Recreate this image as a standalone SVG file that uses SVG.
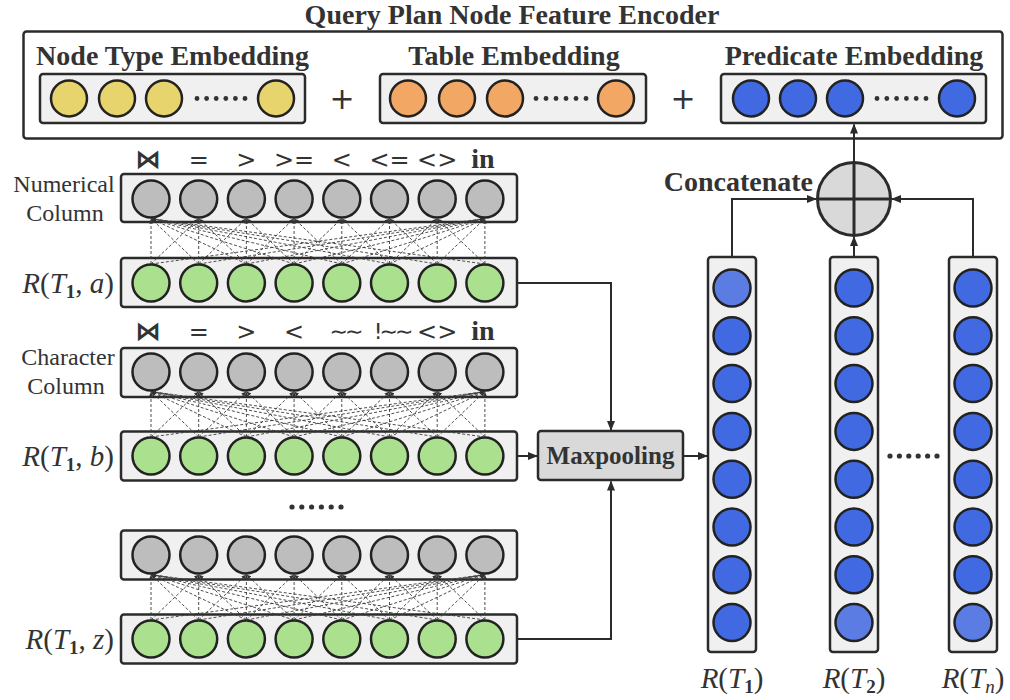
<svg xmlns="http://www.w3.org/2000/svg" xmlns:xlink="http://www.w3.org/1999/xlink" width="1010" height="700" viewBox="0 0 1010 700">
  <style>
    .box { fill: #f0f0f0; stroke: #2b2b2b; stroke-width: 2.5; }
    .c { stroke: #222; stroke-width: 2.5; }
    .yl { fill: #e8d46c; }
    .or { fill: #f2a864; }
    .bl { fill: #4169e1; }
    .bl2 { fill: #5b7de3; }
    .gr { fill: #bdbdbd; }
    .gn { fill: #abe08e; }
    .dot { fill: #333; }
    .hd { font-family: "Liberation Serif", serif; font-weight: bold; font-size: 28px; fill: #333; text-anchor: middle; }
    .hd.end { text-anchor: end; }
    .hd.mp { font-size: 25px; }
    .lbl { font-family: "Liberation Serif", serif; font-size: 24px; fill: #333; text-anchor: middle; }
    .op { font-family: "DejaVu Sans", sans-serif; font-size: 24px; fill: #333; text-anchor: middle; }
    .op.bt { font-weight: bold; font-size: 26px; }
    .op.tl { font-size: 22px; letter-spacing: -3px; }
    .opb { font-family: "Liberation Serif", serif; font-weight: bold; font-size: 28px; fill: #333; text-anchor: middle; }
    .math { font-family: "Liberation Serif", serif; font-size: 29px; fill: #333; }
    .math.end { text-anchor: end; }
    .math.mid { text-anchor: middle; }
    .math .i { font-style: italic; }
    .math .s { font-size: 19px; font-weight: bold; }
    .math .si { font-size: 19px; font-style: italic; }
    .plus { font-family: "DejaVu Sans", sans-serif; font-size: 30px; fill: #333; text-anchor: middle; }
    .arr { fill: none; stroke: #2b2b2b; stroke-width: 2; marker-end: url(#ah); }
    .dl { stroke: #3a3a3a; stroke-width: 0.9; stroke-dasharray: 3 2; marker-end: url(#ahs); }
  </style>
  <defs>
    <marker id="ah" markerUnits="userSpaceOnUse" markerWidth="10" markerHeight="8" refX="9" refY="4" orient="auto">
      <path d="M0,0 L10,4 L0,8 Z" fill="#2b2b2b"/>
    </marker>
    <marker id="ahs" markerUnits="userSpaceOnUse" markerWidth="5" markerHeight="4" refX="5" refY="2" orient="auto">
      <path d="M0,0 L5,2 L0,4 Z" fill="#333"/>
    </marker>
    <!-- dashed links between a gray operator row (centre y=0) and the green row below it (centre y=84) -->
    <g id="links">
      <line class="dl" x1="151" y1="65" x2="151" y2="19.5"/>
      <line class="dl" x1="198.7" y1="65" x2="151" y2="19.5"/>
      <line class="dl" x1="246.4" y1="65" x2="151" y2="19.5"/>
      <line class="dl" x1="294.1" y1="65" x2="151" y2="19.5"/>
      <line class="dl" x1="341.8" y1="65" x2="151" y2="19.5"/>
      <line class="dl" x1="389.5" y1="65" x2="151" y2="19.5"/>
      <line class="dl" x1="437.2" y1="65" x2="151" y2="19.5"/>
      <line class="dl" x1="484.9" y1="65" x2="151" y2="19.5"/>
      <line class="dl" x1="151" y1="65" x2="484.9" y2="19.5"/>
      <line class="dl" x1="198.7" y1="65" x2="484.9" y2="19.5"/>
      <line class="dl" x1="246.4" y1="65" x2="484.9" y2="19.5"/>
      <line class="dl" x1="294.1" y1="65" x2="484.9" y2="19.5"/>
      <line class="dl" x1="341.8" y1="65" x2="484.9" y2="19.5"/>
      <line class="dl" x1="389.5" y1="65" x2="484.9" y2="19.5"/>
      <line class="dl" x1="437.2" y1="65" x2="484.9" y2="19.5"/>
      <line class="dl" x1="484.9" y1="65" x2="484.9" y2="19.5"/>
      <line class="dl" x1="151" y1="65" x2="198.7" y2="19.5"/>
      <line class="dl" x1="198.7" y1="65" x2="198.7" y2="19.5"/>
      <line class="dl" x1="246.4" y1="65" x2="198.7" y2="19.5"/>
      <line class="dl" x1="198.7" y1="65" x2="246.4" y2="19.5"/>
      <line class="dl" x1="246.4" y1="65" x2="246.4" y2="19.5"/>
      <line class="dl" x1="294.1" y1="65" x2="246.4" y2="19.5"/>
      <line class="dl" x1="246.4" y1="65" x2="294.1" y2="19.5"/>
      <line class="dl" x1="294.1" y1="65" x2="294.1" y2="19.5"/>
      <line class="dl" x1="341.8" y1="65" x2="294.1" y2="19.5"/>
      <line class="dl" x1="294.1" y1="65" x2="341.8" y2="19.5"/>
      <line class="dl" x1="341.8" y1="65" x2="341.8" y2="19.5"/>
      <line class="dl" x1="389.5" y1="65" x2="341.8" y2="19.5"/>
      <line class="dl" x1="341.8" y1="65" x2="389.5" y2="19.5"/>
      <line class="dl" x1="389.5" y1="65" x2="389.5" y2="19.5"/>
      <line class="dl" x1="437.2" y1="65" x2="389.5" y2="19.5"/>
      <line class="dl" x1="389.5" y1="65" x2="437.2" y2="19.5"/>
      <line class="dl" x1="437.2" y1="65" x2="437.2" y2="19.5"/>
      <line class="dl" x1="484.9" y1="65" x2="437.2" y2="19.5"/>
    </g>
  </defs>

  <rect width="1010" height="700" fill="#ffffff"/>

  <!-- encoder header -->
  <g id="encoder">
    <text class="hd" x="512" y="24">Query Plan Node Feature Encoder</text>
    <rect x="23.5" y="31.5" width="979" height="107" rx="3" fill="#ffffff" stroke="#2b2b2b" stroke-width="2.5"/>
  </g>

  <g id="node-type-embedding">
    <text class="hd" x="172.5" y="65">Node Type Embedding</text>
    <rect class="box" x="40" y="74" width="265" height="49" rx="3"/>
    <circle class="c yl" cx="69" cy="98.5" r="18"/>
    <circle class="c yl" cx="117" cy="98.5" r="18"/>
    <circle class="c yl" cx="164" cy="98.5" r="18"/>
    <circle class="c yl" cx="276" cy="98.5" r="18"/>
    <g class="dot">
      <circle cx="197" cy="98.5" r="2.4"/><circle cx="206.6" cy="98.5" r="2.4"/><circle cx="216.2" cy="98.5" r="2.4"/>
      <circle cx="225.8" cy="98.5" r="2.4"/><circle cx="235.4" cy="98.5" r="2.4"/><circle cx="245" cy="98.5" r="2.4"/>
    </g>
  </g>

  <text class="plus" x="342" y="109">+</text>

  <g id="table-embedding">
    <text class="hd" x="514" y="65">Table Embedding</text>
    <rect class="box" x="380" y="74" width="266" height="49" rx="3"/>
    <circle class="c or" cx="408" cy="98.5" r="18"/>
    <circle class="c or" cx="457" cy="98.5" r="18"/>
    <circle class="c or" cx="505" cy="98.5" r="18"/>
    <circle class="c or" cx="616" cy="98.5" r="18"/>
    <g class="dot">
      <circle cx="536" cy="98.5" r="2.4"/><circle cx="546" cy="98.5" r="2.4"/><circle cx="556" cy="98.5" r="2.4"/>
      <circle cx="566" cy="98.5" r="2.4"/><circle cx="576" cy="98.5" r="2.4"/><circle cx="586" cy="98.5" r="2.4"/>
    </g>
  </g>

  <text class="plus" x="683" y="109">+</text>

  <g id="predicate-embedding">
    <text class="hd" x="854" y="65">Predicate Embedding</text>
    <rect class="box" x="721" y="74" width="265" height="49" rx="3"/>
    <circle class="c bl" cx="751" cy="98.5" r="18"/>
    <circle class="c bl" cx="798" cy="98.5" r="18"/>
    <circle class="c bl" cx="845" cy="98.5" r="18"/>
    <circle class="c bl" cx="957" cy="98.5" r="18"/>
    <g class="dot">
      <circle cx="877" cy="98.5" r="2.4"/><circle cx="886.8" cy="98.5" r="2.4"/><circle cx="896.6" cy="98.5" r="2.4"/>
      <circle cx="906.4" cy="98.5" r="2.4"/><circle cx="916.2" cy="98.5" r="2.4"/><circle cx="926" cy="98.5" r="2.4"/>
    </g>
  </g>

  <!-- numerical column operators -->
  <g id="numerical-column">
    <text class="op bt" x="148" y="168">⋈</text>
    <text class="op" x="198.7" y="168">=</text>
    <text class="op" x="246.4" y="168">&gt;</text>
    <text class="op" x="294.1" y="168">&gt;=</text>
    <text class="op" x="341.8" y="168">&lt;</text>
    <text class="op" x="389.5" y="168">&lt;=</text>
    <text class="op" x="437.2" y="168">&lt;&gt;</text>
    <text class="opb" x="483" y="168">in</text>
    <text class="lbl" x="64" y="192">Numerical</text>
    <text class="lbl" x="65" y="221">Column</text>
    <rect class="box" x="121" y="174" width="396" height="48" rx="3"/>
    <circle class="c gr" cx="151" cy="199" r="18.5"/>
    <circle class="c gr" cx="198.7" cy="199" r="18.5"/>
    <circle class="c gr" cx="246.4" cy="199" r="18.5"/>
    <circle class="c gr" cx="294.1" cy="199" r="18.5"/>
    <circle class="c gr" cx="341.8" cy="199" r="18.5"/>
    <circle class="c gr" cx="389.5" cy="199" r="18.5"/>
    <circle class="c gr" cx="437.2" cy="199" r="18.5"/>
    <circle class="c gr" cx="484.9" cy="199" r="18.5"/>
  </g>

  <g id="r-t1-a">
    <text class="math end" x="114" y="293"><tspan class="i">R</tspan>(<tspan class="i">T</tspan><tspan class="s" dy="5">1</tspan><tspan dy="-5">, </tspan><tspan class="i">a</tspan>)</text>
    <rect class="box" x="121" y="258" width="396" height="49" rx="3"/>
    <circle class="c gn" cx="151" cy="283" r="18.5"/>
    <circle class="c gn" cx="198.7" cy="283" r="18.5"/>
    <circle class="c gn" cx="246.4" cy="283" r="18.5"/>
    <circle class="c gn" cx="294.1" cy="283" r="18.5"/>
    <circle class="c gn" cx="341.8" cy="283" r="18.5"/>
    <circle class="c gn" cx="389.5" cy="283" r="18.5"/>
    <circle class="c gn" cx="437.2" cy="283" r="18.5"/>
    <circle class="c gn" cx="484.9" cy="283" r="18.5"/>
  </g>

  <!-- character column operators -->
  <g id="character-column">
    <text class="op bt" x="148" y="340">⋈</text>
    <text class="op" x="198.7" y="340">=</text>
    <text class="op" x="246.4" y="340">&gt;</text>
    <text class="op" x="294.1" y="340">&lt;</text>
    <text class="op tl" x="345" y="339">∼∼</text>
    <text class="op tl" x="392" y="339">!∼∼</text>
    <text class="op" x="437.2" y="340">&lt;&gt;</text>
    <text class="opb" x="483" y="340">in</text>
    <text class="lbl" x="68" y="365">Character</text>
    <text class="lbl" x="66" y="394">Column</text>
    <rect class="box" x="121" y="348" width="396" height="49" rx="3"/>
    <circle class="c gr" cx="151" cy="372" r="18.5"/>
    <circle class="c gr" cx="198.7" cy="372" r="18.5"/>
    <circle class="c gr" cx="246.4" cy="372" r="18.5"/>
    <circle class="c gr" cx="294.1" cy="372" r="18.5"/>
    <circle class="c gr" cx="341.8" cy="372" r="18.5"/>
    <circle class="c gr" cx="389.5" cy="372" r="18.5"/>
    <circle class="c gr" cx="437.2" cy="372" r="18.5"/>
    <circle class="c gr" cx="484.9" cy="372" r="18.5"/>
  </g>

  <g id="r-t1-b">
    <text class="math end" x="114" y="466"><tspan class="i">R</tspan>(<tspan class="i">T</tspan><tspan class="s" dy="5">1</tspan><tspan dy="-5">, </tspan><tspan class="i">b</tspan>)</text>
    <rect class="box" x="121" y="431.5" width="396" height="49" rx="3"/>
    <circle class="c gn" cx="151" cy="456" r="18.5"/>
    <circle class="c gn" cx="198.7" cy="456" r="18.5"/>
    <circle class="c gn" cx="246.4" cy="456" r="18.5"/>
    <circle class="c gn" cx="294.1" cy="456" r="18.5"/>
    <circle class="c gn" cx="341.8" cy="456" r="18.5"/>
    <circle class="c gn" cx="389.5" cy="456" r="18.5"/>
    <circle class="c gn" cx="437.2" cy="456" r="18.5"/>
    <circle class="c gn" cx="484.9" cy="456" r="18.5"/>
  </g>

  <g id="more-columns" class="dot">
    <circle cx="292" cy="507" r="2.6"/><circle cx="301.8" cy="507" r="2.6"/><circle cx="311.6" cy="507" r="2.6"/>
    <circle cx="321.4" cy="507" r="2.6"/><circle cx="331.2" cy="507" r="2.6"/><circle cx="341" cy="507" r="2.6"/>
  </g>

  <g id="column-z">
    <rect class="box" x="121" y="530.5" width="396" height="49" rx="3"/>
    <circle class="c gr" cx="151" cy="555" r="18.5"/>
    <circle class="c gr" cx="198.7" cy="555" r="18.5"/>
    <circle class="c gr" cx="246.4" cy="555" r="18.5"/>
    <circle class="c gr" cx="294.1" cy="555" r="18.5"/>
    <circle class="c gr" cx="341.8" cy="555" r="18.5"/>
    <circle class="c gr" cx="389.5" cy="555" r="18.5"/>
    <circle class="c gr" cx="437.2" cy="555" r="18.5"/>
    <circle class="c gr" cx="484.9" cy="555" r="18.5"/>
  </g>

  <g id="r-t1-z">
    <text class="math end" x="114" y="649"><tspan class="i">R</tspan>(<tspan class="i">T</tspan><tspan class="s" dy="5">1</tspan><tspan dy="-5">, </tspan><tspan class="i">z</tspan>)</text>
    <rect class="box" x="121" y="614.5" width="396" height="49" rx="3"/>
    <circle class="c gn" cx="151" cy="639" r="18.5"/>
    <circle class="c gn" cx="198.7" cy="639" r="18.5"/>
    <circle class="c gn" cx="246.4" cy="639" r="18.5"/>
    <circle class="c gn" cx="294.1" cy="639" r="18.5"/>
    <circle class="c gn" cx="341.8" cy="639" r="18.5"/>
    <circle class="c gn" cx="389.5" cy="639" r="18.5"/>
    <circle class="c gn" cx="437.2" cy="639" r="18.5"/>
    <circle class="c gn" cx="484.9" cy="639" r="18.5"/>
  </g>

  <g id="maxpooling">
    <rect x="538" y="431" width="145" height="49" rx="3" fill="#d9d9d9" stroke="#2b2b2b" stroke-width="2.5"/>
    <text class="hd mp" x="610.5" y="464">Maxpooling</text>
  </g>

  <!-- table representations -->
  <g id="r-t1">
    <rect class="box" x="708" y="257" width="48" height="395" rx="3"/>
    <circle class="c bl2" cx="732" cy="288" r="18.5"/>
    <circle class="c bl" cx="732" cy="335.8" r="18.5"/>
    <circle class="c bl" cx="732" cy="383.6" r="18.5"/>
    <circle class="c bl" cx="732" cy="431.4" r="18.5"/>
    <circle class="c bl" cx="732" cy="479.2" r="18.5"/>
    <circle class="c bl" cx="732" cy="527" r="18.5"/>
    <circle class="c bl" cx="732" cy="574.8" r="18.5"/>
    <circle class="c bl" cx="732" cy="622.6" r="18.5"/>
    <text class="math mid" x="732" y="688"><tspan class="i">R</tspan>(<tspan class="i">T</tspan><tspan class="s" dy="5">1</tspan><tspan dy="-5">)</tspan></text>
  </g>

  <g id="r-t2">
    <rect class="box" x="830" y="257" width="48" height="395" rx="3"/>
    <circle class="c bl" cx="854" cy="288" r="18.5"/>
    <circle class="c bl" cx="854" cy="335.8" r="18.5"/>
    <circle class="c bl" cx="854" cy="383.6" r="18.5"/>
    <circle class="c bl" cx="854" cy="431.4" r="18.5"/>
    <circle class="c bl" cx="854" cy="479.2" r="18.5"/>
    <circle class="c bl" cx="854" cy="527" r="18.5"/>
    <circle class="c bl" cx="854" cy="574.8" r="18.5"/>
    <circle class="c bl2" cx="854" cy="622.6" r="18.5"/>
    <text class="math mid" x="854" y="688"><tspan class="i">R</tspan>(<tspan class="i">T</tspan><tspan class="s" dy="5">2</tspan><tspan dy="-5">)</tspan></text>
  </g>

  <g id="more-tables" class="dot">
    <circle cx="890" cy="456" r="2.6"/><circle cx="899.4" cy="456" r="2.6"/><circle cx="908.8" cy="456" r="2.6"/>
    <circle cx="918.2" cy="456" r="2.6"/><circle cx="927.6" cy="456" r="2.6"/><circle cx="937" cy="456" r="2.6"/>
  </g>

  <g id="r-tn">
    <rect class="box" x="949" y="257" width="48" height="395" rx="3"/>
    <circle class="c bl" cx="973" cy="288" r="18.5"/>
    <circle class="c bl" cx="973" cy="335.8" r="18.5"/>
    <circle class="c bl" cx="973" cy="383.6" r="18.5"/>
    <circle class="c bl" cx="973" cy="431.4" r="18.5"/>
    <circle class="c bl" cx="973" cy="479.2" r="18.5"/>
    <circle class="c bl" cx="973" cy="527" r="18.5"/>
    <circle class="c bl" cx="973" cy="574.8" r="18.5"/>
    <circle class="c bl2" cx="973" cy="622.6" r="18.5"/>
    <text class="math mid" x="973" y="688"><tspan class="i">R</tspan>(<tspan class="i">T</tspan><tspan class="si" dy="5">n</tspan><tspan dy="-5">)</tspan></text>
  </g>

  <g id="concatenate">
    <text class="hd end" x="813" y="191">Concatenate</text>
    <circle cx="854" cy="199" r="36.5" fill="#d9d9d9" stroke="#2b2b2b" stroke-width="3"/>
    <line x1="854" y1="162.5" x2="854" y2="235.5" stroke="#2b2b2b" stroke-width="3"/>
    <line x1="817.5" y1="199" x2="890.5" y2="199" stroke="#2b2b2b" stroke-width="3"/>
  </g>

  <g id="connectors">
    <use xlink:href="#links" y="199"/>
    <use xlink:href="#links" y="372"/>
    <use xlink:href="#links" y="555"/>
    <path class="arr" d="M517,283 H611 V430"/>
    <path class="arr" d="M517,456 H537"/>
    <path class="arr" d="M517,639 H611 V481.5"/>
    <path class="arr" d="M683,456 H707"/>
    <path class="arr" d="M732,257 V199 H816"/>
    <path class="arr" d="M973,257 V199 H892"/>
    <path class="arr" d="M854,257 V237"/>
    <path class="arr" d="M854,162 V124.5"/>
  </g>
</svg>
